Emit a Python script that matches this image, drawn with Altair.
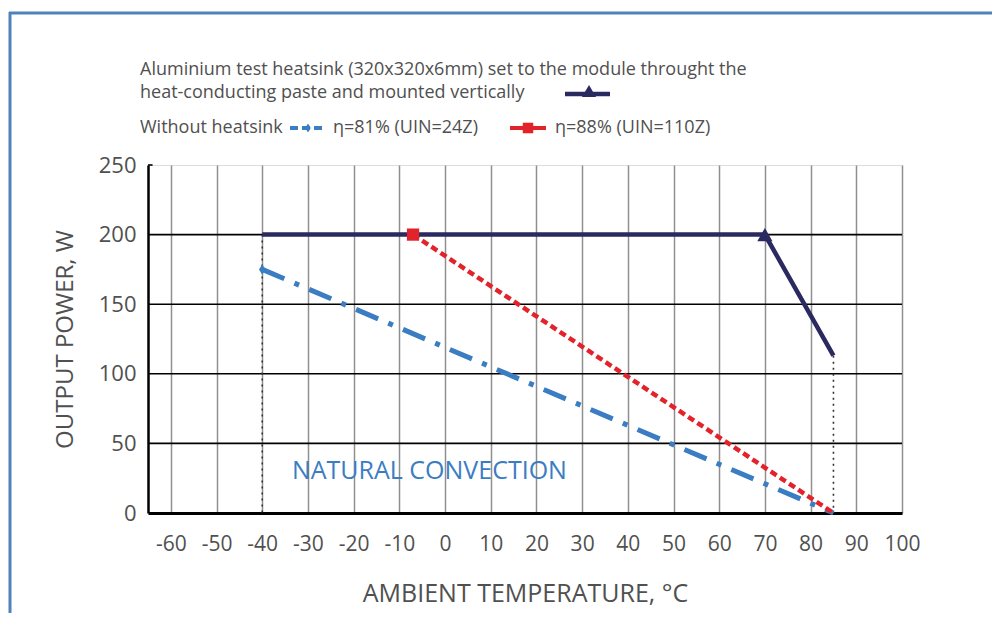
import altair as alt
import pandas as pd

# ---------------- data ----------------
heatsink_t = [-40, 70, 85]
heatsink_p = [200, 200, 113]
eta81_t = [-40, 85]
eta81_p = [175, 0]
eta88_t = [-7, 85]
eta88_p = [200, 0]
dotted_t = [-40, 85]
dotted_top = [200, 113]

x_ticks = list(range(-60, 101, 10))
y_ticks = [0, 50, 100, 150, 200, 250]
h_grid = [50, 100, 150, 200]

legend_line1 = "Aluminium test heatsink (320x320x6mm) set to the module throught the"
legend_line2 = "heat-conducting paste and mounted vertically"
legend_line3 = "Without heatsink"
legend_eta81 = "η=81% (UIN=24Z)"
legend_eta88 = "η=88% (UIN=110Z)"
annotation = "NATURAL CONVECTION"
x_title = "AMBIENT TEMPERATURE, °C"
y_title = "OUTPUT POWER, W"

# ---------------- style ----------------
FONT = "Open Sans"
NAVY = "#2a2960"
RED = "#e3232b"
BLUE = "#3b7dc2"
GRAY_TXT = "#505050"
FRAME = "#4f81bd"
DIAMOND = "M0,-1L0.62,0L0,1L-0.62,0Z"

W, H = 754, 348

xs = alt.Scale(domain=[-65, 100], nice=False, zero=False)
ys = alt.Scale(domain=[0, 250], nice=False)

hs = pd.DataFrame({"t": heatsink_t, "p": heatsink_p})
b81 = pd.DataFrame({"t": eta81_t, "p": eta81_p})
r88 = pd.DataFrame({"t": eta88_t, "p": eta88_p})
dot = pd.DataFrame({"t": dotted_t, "p": dotted_top, "p0": [0, 0]})
hg = pd.DataFrame({"p": h_grid, "t0": [-65] * len(h_grid), "t1": [100] * len(h_grid)})
top_tick = pd.DataFrame({"p": [250], "t0": [-65], "t1": [-64]})

x_axis = alt.Axis(
    values=x_ticks, grid=True, gridColor="#8f8f8f", gridWidth=1.5,
    domainColor="black", domainWidth=3, ticks=False,
    labelExpr="datum.value < 0 ? '-' + abs(datum.value) : '' + datum.value",
    labelFont=FONT, labelFontSize=21, labelColor=GRAY_TXT, labelPadding=20,
    labelFlush=False, title=x_title, titleFont=FONT, titleFontSize=25,
    titleFontWeight="normal", titleColor=GRAY_TXT, titlePadding=27,
)
y_axis = alt.Axis(
    values=y_ticks, grid=False, domainColor="black", domainWidth=2.5, ticks=False,
    labelFont=FONT, labelFontSize=22, labelColor=GRAY_TXT, labelPadding=12,
    title=y_title, titleFont=FONT, titleFontSize=24, titleFontWeight="normal",
    titleColor=GRAY_TXT, titlePadding=21,
)

base_x = alt.X("t:Q", scale=xs, axis=x_axis)
base_y = alt.Y("p:Q", scale=ys, axis=y_axis)

grid_h = alt.Chart(hg).mark_rule(color="black", strokeWidth=1.6).encode(
    x=alt.X("t0:Q", scale=xs, axis=x_axis), x2="t1:Q",
    y=alt.Y("p:Q", scale=ys, axis=y_axis))
tick_top = alt.Chart(top_tick).mark_rule(color="black", strokeWidth=1.6).encode(
    x=alt.X("t0:Q", scale=xs), x2="t1:Q", y=alt.Y("p:Q", scale=ys))

dotted = alt.Chart(dot).mark_rule(color="#333333", strokeWidth=1.6, strokeDash=[2, 4]).encode(
    x=alt.X("t:Q", scale=xs), y=alt.Y("p:Q", scale=ys), y2="p0:Q")

line_hs = alt.Chart(hs).mark_line(color=NAVY, strokeWidth=4.5).encode(x=base_x, y=base_y)
line_81 = alt.Chart(b81).mark_line(color=BLUE, strokeWidth=5, strokeDash=[24, 11, 5, 11]).encode(
    x=alt.X("t:Q", scale=xs), y=alt.Y("p:Q", scale=ys))
line_88 = alt.Chart(r88).mark_line(color=RED, strokeWidth=4.5, strokeDash=[7, 4]).encode(
    x=alt.X("t:Q", scale=xs), y=alt.Y("p:Q", scale=ys))

pt_hs = alt.Chart(hs.iloc[[1]]).mark_point(shape="triangle-up", filled=True, color=NAVY, size=230, opacity=1).encode(
    x=alt.X("t:Q", scale=xs), y=alt.Y("p:Q", scale=ys))
pt_81 = alt.Chart(b81.iloc[[0]]).mark_point(shape=DIAMOND, filled=True, color=BLUE, size=110, opacity=1).encode(
    x=alt.X("t:Q", scale=xs), y=alt.Y("p:Q", scale=ys))
pt_88 = alt.Chart(r88.iloc[[0]]).mark_point(shape="square", filled=True, color=RED, size=150, opacity=1).encode(
    x=alt.X("t:Q", scale=xs), y=alt.Y("p:Q", scale=ys))

note = alt.Chart(pd.DataFrame({"t": [-33.5], "p": [30], "s": [annotation]})).mark_text(
    align="left", baseline="middle", font=FONT, fontSize=25, color=BLUE).encode(
    x=alt.X("t:Q", scale=xs), y=alt.Y("p:Q", scale=ys), text="s:N")

# ---------------- legend (decoration, pixel positions) ----------------
leg_txt = pd.DataFrame({
    "s": [legend_line1, legend_line2, legend_line3, legend_eta81, legend_eta88],
    "px": [-8, -8, -8, 185, 407],
    "py": [-95, -72, -37, -37, -37],
})
legend_text = alt.Chart(leg_txt).mark_text(
    align="left", baseline="middle", font=FONT, fontSize=18, color=GRAY_TXT).encode(
    x=alt.X("px:Q", scale=None), y=alt.Y("py:Q", scale=None), text="s:N")

leg_navy = alt.Chart(pd.DataFrame({"a": [0]})).mark_rule(color=NAVY, strokeWidth=4.5).encode(
    x=alt.value(417), x2=alt.value(462), y=alt.value(-71))
leg_navy_pt = alt.Chart(pd.DataFrame({"a": [0]})).mark_point(
    shape="triangle-up", filled=True, color=NAVY, size=200, opacity=1).encode(
    x=alt.value(441), y=alt.value(-74))
leg_blue = alt.Chart(pd.DataFrame({"a": [0]})).mark_rule(
    color=BLUE, strokeWidth=4, strokeDash=[8, 4]).encode(
    x=alt.value(142), x2=alt.value(178), y=alt.value(-37))
leg_blue_pt = alt.Chart(pd.DataFrame({"a": [0]})).mark_point(
    shape=DIAMOND, filled=True, color=BLUE, size=80, opacity=1).encode(
    x=alt.value(160), y=alt.value(-37))
leg_red = alt.Chart(pd.DataFrame({"a": [0]})).mark_rule(color=RED, strokeWidth=4).encode(
    x=alt.value(362), x2=alt.value(398), y=alt.value(-37))
leg_red_pt = alt.Chart(pd.DataFrame({"a": [0]})).mark_point(
    shape="square", filled=True, color=RED, size=110, opacity=1).encode(
    x=alt.value(380), y=alt.value(-37))

# ---------------- outer frame ----------------
frame_left = alt.Chart(pd.DataFrame({"a": [0]})).mark_rule(color=FRAME, strokeWidth=3).encode(
    x=alt.value(-138), y=alt.value(-153), y2=alt.value(470))
frame_top = alt.Chart(pd.DataFrame({"a": [0]})).mark_rule(color=FRAME, strokeWidth=3).encode(
    x=alt.value(-139), x2=alt.value(880), y=alt.value(-152))

chart = alt.layer(
    grid_h, tick_top, dotted, line_81, line_88, line_hs, pt_81, pt_88, pt_hs, note,
    legend_text, leg_navy, leg_navy_pt, leg_blue, leg_blue_pt, leg_red, leg_red_pt,
    frame_left, frame_top,
).properties(
    width=W, height=H,
    autosize=alt.AutoSizeParams(type="none"),
    padding={"left": 140, "top": 157, "right": 90, "bottom": 100},
).configure_view(stroke=None).configure(background="white")

chart.save("out.html", embed_options={"renderer": "svg", "actions": False})
